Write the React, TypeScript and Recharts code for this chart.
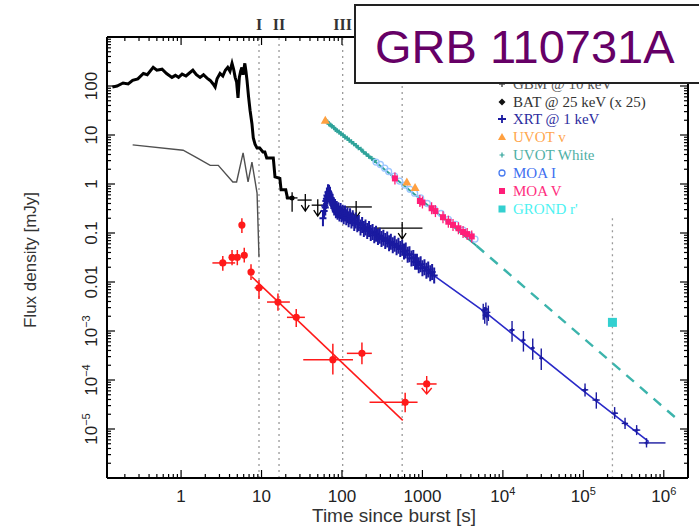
import { ComposedChart, XAxis, YAxis, Line, Scatter, ErrorBar, ReferenceLine } from 'recharts'

const W = 699
const H = 529
const X_DOMAIN = [0.12, 2e6]
const Y_DOMAIN = [1e-6, 1e3]

const xMajorTicks = [1, 10, 100, 1000, 1e4, 1e5, 1e6]
const xTickLabels = ['1', '10', '100', '1000', '10^4', '10^5', '10^6']
const yMajorTicks = [1e-5, 1e-4, 1e-3, 0.01, 0.1, 1, 10, 100]
const yTickLabels = ['10^−5', '10^−4', '10^−3', '0.01', '0.1', '1', '10', '100']

// phase markers (dotted verticals); the 4th one sits under the title box
const phaseTimes = [9.3, 16.5, 102, 560]
const phaseNames = ['I', 'II', 'III', '']
const grondTime = 2.3e5

// BAT 25 keV (x25) light curve [t, flux]
const batCurve = [
  [0.14, 95], [0.16, 100], [0.19, 115], [0.22, 110], [0.25, 130], [0.29, 140], [0.34, 180], [0.38, 170],
  [0.45, 240], [0.5, 210], [0.58, 220], [0.66, 180], [0.77, 150], [0.85, 165], [0.93, 150], [1.03, 175],
  [1.15, 160], [1.25, 180], [1.4, 210], [1.55, 170], [1.72, 150], [1.9, 170], [2.1, 145], [2.3, 130],
  [2.5, 110], [2.65, 95], [2.8, 140], [3.05, 180], [3.3, 160], [3.55, 210], [3.8, 240], [4.05, 200],
  [4.3, 290], [4.5, 220], [4.7, 150], [4.9, 120], [5.1, 57], [5.3, 150], [5.5, 200], [5.7, 240],
  [5.9, 170], [6.2, 290], [6.4, 200], [6.6, 130], [6.9, 60], [7.2, 32], [7.6, 17], [7.9, 8.7],
  [8.3, 6.5], [8.8, 5.4], [9.5, 5.4], [10.4, 4.5], [11, 4.5], [11.6, 3.4], [14, 3.4], [14.7, 1.4],
  [16.9, 1.3], [17.5, 0.76], [20, 0.76], [21, 0.52], [24, 0.52],
]
// [t, flux, tLo, tHi, fLo, fHi]
const batPoints = [[24, 0.52, 20, 28, 0.27, 0.68]]
// upper limits [t, flux, tLo, tHi]
const batLimits = [[35, 0.47, 28, 42], [50, 0.37, 42, 62], [150, 0.34, 100, 235], [560, 0.126, 250, 1000]]

// GBM 10 keV
const gbmCurve = [
  [0.25, 6.3], [1.06, 4.9], [1.58, 3.4], [2.3, 2.4], [2.9, 2.4], [4.4, 1.1], [4.9, 1.1], [5.9, 4.3],
  [6.8, 1.1], [7.6, 2.8], [8.8, 0.65], [9.3, 0.032],
]

// XRT 1 keV
const xrtEarly = [
  [58, 0.2], [60, 0.28], [61, 0.36], [62, 0.33], [63, 0.45], [64, 0.5], [65, 0.58], [66, 0.55],
  [67, 0.68], [68, 0.62], [69, 0.66], [70, 0.58], [71, 0.6], [72, 0.52], [73, 0.5], [74, 0.45],
  [76, 0.42], [77, 0.38], [79, 0.37], [80, 0.33], [82, 0.34], [84, 0.29], [86, 0.31], [88, 0.27],
  [90, 0.29], [93, 0.25], [96, 0.28], [99, 0.24], [102, 0.26], [105, 0.22], [109, 0.25], [113, 0.21],
  [117, 0.23], [121, 0.19], [126, 0.22], [131, 0.18], [136, 0.2], [142, 0.16], [148, 0.18], [155, 0.15],
  [162, 0.16], [170, 0.13], [178, 0.145], [187, 0.12], [196, 0.13], [206, 0.11], [217, 0.12], [228, 0.1],
  [240, 0.105], [252, 0.09], [265, 0.097], [280, 0.083], [295, 0.088], [310, 0.075], [327, 0.08], [345, 0.069],
  [365, 0.074], [385, 0.062], [405, 0.066], [428, 0.056], [452, 0.06], [477, 0.051], [503, 0.055], [530, 0.047],
  [560, 0.05], [590, 0.042], [620, 0.044], [655, 0.036], [690, 0.037], [730, 0.03], [770, 0.031], [810, 0.026],
  [855, 0.026], [900, 0.022], [950, 0.023], [1000, 0.019], [1060, 0.02], [1120, 0.017], [1180, 0.018],
  [1250, 0.015], [1320, 0.016], [1400, 0.0135],
]
const xrtLate = [
  [5700, 0.0026, 5500, 5900, 0.0017, 0.0036], [5950, 0.0021, 5800, 6100, 0.0014, 0.0031],
  [6150, 0.0028, 6000, 6300, 0.0019, 0.0038], [6350, 0.002, 6200, 6500, 0.0013, 0.0029],
  [6600, 0.0024, 6500, 6750, 0.0016, 0.0033], [1.3e4, 1.05e-3, 1.2e4, 1.4e4, 6e-4, 1.6e-3],
  [1.8e4, 6.5e-4, 1.7e4, 1.9e4, 3.8e-4, 1.0e-3], [2.35e4, 4.5e-4, 2.25e4, 2.45e4, 2.6e-4, 7e-4],
  [3.0e4, 2.8e-4, 2.85e4, 3.15e4, 1.6e-4, 4.4e-4], [1.05e5, 6.3e-5, 9.5e4, 1.15e5, 4.6e-5, 8.5e-5],
  [1.45e5, 3.9e-5, 1.3e5, 1.6e5, 2.6e-5, 5.6e-5], [2.45e5, 2.1e-5, 2.25e5, 2.7e5, 1.6e-5, 2.8e-5],
  [3.3e5, 1.3e-5, 3.0e5, 3.6e5, 1.0e-5, 1.7e-5], [4.6e5, 9.5e-6, 4.1e5, 5.1e5, 7.5e-6, 1.2e-5],
  [6.1e5, 5.2e-6, 4.9e5, 1.05e6, 4.2e-6, 6.5e-6],
]
const xrtModel = [
  [58, 0.19], [68, 0.63], [80, 0.36], [100, 0.26], [570, 0.048], [1350, 0.014], [6300, 0.0023],
  [1e5, 6e-5], [6.5e5, 5.5e-6],
]

// optical
const uvotV = [[62, 20], [640, 1.1], [810, 0.85]]
const uvotWhite = [
  [63, 19.5], [66, 18.5], [69, 16.8], [72, 16.0], [75, 15.0], [79, 14.2], [83, 13.0], [87, 12.2],
  [92, 11.5], [97, 10.6], [103, 10.0], [109, 9.0], [116, 8.6], [123, 7.8], [131, 7.3], [140, 6.6],
  [150, 6.1], [160, 5.5], [172, 5.1], [185, 4.5], [200, 4.1], [215, 3.7], [235, 3.3], [255, 3.0],
]
const opticalModel = [[60, 21], [4700, 0.055]]
const opticalExtrap = [[4700, 0.055], [1.4e6, 1.7e-5]]
const moaI = [
  [265, 2.8], [300, 2.5], [340, 2.1], [380, 1.8], [450, 1.45], [520, 1.15], [600, 0.95], [700, 0.78],
  [800, 0.65], [950, 0.52], [1150, 0.4], [1400, 0.31], [1700, 0.25], [2100, 0.19], [2600, 0.15],
  [3200, 0.115], [3900, 0.09], [4500, 0.075],
]
const moaV = [
  [455, 1.3], [930, 0.45], [1000, 0.42], [1300, 0.32], [1450, 0.28], [1800, 0.21], [2100, 0.17],
  [2400, 0.146], [2800, 0.125], [3200, 0.105], [3600, 0.095], [4100, 0.085],
]
const grond = [[2.3e5, 1.5e-3]]

// red points [t, flux, tLo, tHi, fLo, fHi]
const redPoints = [
  [3.3, 0.0245, 2.45, 4.7, 0.017, 0.034], [4.3, 0.032, 4.0, 4.6, 0.022, 0.045],
  [5.0, 0.032, 4.7, 5.3, 0.022, 0.045], [6.1, 0.035, 5.8, 6.6, 0.025, 0.05],
  [5.7, 0.145, 5.5, 5.9, 0.1, 0.2], [7.4, 0.016, 6.8, 8.2, 0.011, 0.023],
  [9.3, 0.0076, 8.2, 10.5, 0.0045, 0.011], [16, 0.0039, 11.7, 22.5, 0.0026, 0.0058],
  [27, 0.0019, 20.7, 34.6, 0.0012, 0.0028], [77, 2.6e-4, 33, 137, 1.3e-4, 5.5e-4],
  [177, 3.5e-4, 115, 235, 2.1e-4, 5.8e-4], [610, 3.5e-5, 220, 870, 2.2e-5, 5.5e-5],
]
const redLimits = [[1130, 8.3e-5, 850, 1500]]
const redModel = [[7.6, 0.0127], [570, 1.5e-5]]

const legendNames = ['GBM @ 10 keV', 'BAT @ 25 keV (x 25)', 'XRT @ 1 keV', 'UVOT v', 'UVOT White', 'MOA I', 'MOA V', "GROND r'"]
const legendColors = ['#555555', '#333333', '#2b2b9e', '#ffa64d', '#4fb0a5', '#3f6ff0', '#ff2e7e', '#4df2f2']
const legendRows = [84, 102, 119, 137, 155, 173, 191, 209]

const C = {
  bat: '#000000',
  gbm: '#505050',
  xrt: '#1a1aa0',
  xrtLine: '#2a2ac8',
  red: '#ff1a1a',
  teal: '#2fa39a',
  tealDash: '#3cb4ac',
  orange: '#ffa040',
  moaI: '#9cc6ff',
  moaV: '#ff1e78',
  grond: '#33d0d0',
  ref: '#9a9a9a',
}

const pts = (a: number[][]) => a.map(([t, v]) => ({ t, v }))
const errPts = (a: number[][]) =>
  a.map(([t, v, tLo, tHi, vLo, vHi]) => ({ t, v, xe: [t - tLo, tHi - t], ye: [v - vLo, vHi - v] }))
const limPts = (a: number[][]) => a.map(([t, v, tLo, tHi]) => ({ t, v, xe: [t - tLo, tHi - t] }))

function logTicks(lo: number, hi: number) {
  const out: number[] = []
  for (let e = Math.floor(Math.log10(lo)); e <= Math.ceil(Math.log10(hi)); e++) {
    for (let k = 1; k <= 9; k++) {
      const v = k * Math.pow(10, e)
      if (v >= lo && v <= hi) out.push(v)
    }
  }
  return out
}
const xTicks = logTicks(X_DOMAIN[0], X_DOMAIN[1])
const yTicks = logTicks(Y_DOMAIN[0], Y_DOMAIN[1])

const isMajor = (v: number) => Math.abs(Math.log10(v) - Math.round(Math.log10(v))) < 1e-6
const findLabel = (v: number, majors: number[], labels: string[]) => {
  const i = majors.findIndex((m) => Math.abs(m - v) / m < 1e-6)
  return i >= 0 ? labels[i] : null
}

const tickFont = { fontFamily: 'Liberation Sans, Arial, sans-serif', fontSize: 17, fill: '#222' }

function SupText({ label, ...rest }: any) {
  const [base, exp] = label.split('^')
  return (
    <text {...rest} {...tickFont}>
      {base}
      {exp && (
        <tspan dy={-7} fontSize={11}>
          {exp}
        </tspan>
      )}
    </text>
  )
}

function BottomTick({ x, y, payload }: any) {
  const v = payload.value
  const label = findLabel(v, xMajorTicks, xTickLabels)
  return (
    <g>
      <line x1={x} x2={x} y1={y} y2={y - (isMajor(v) ? 8 : 4)} stroke="#000" strokeWidth={1.2} />
      {label && <SupText label={label} x={x} y={y + 24} textAnchor="middle" />}
    </g>
  )
}

function TopTick({ x, y, payload }: any) {
  return <line x1={x} x2={x} y1={y} y2={y + (isMajor(payload.value) ? 8 : 4)} stroke="#000" strokeWidth={1.2} />
}

function LeftTick({ x, y, payload }: any) {
  const v = payload.value
  const label = findLabel(v, yMajorTicks, yTickLabels)
  const lx = x - 10
  return (
    <g>
      <line x1={x} x2={x + (isMajor(v) ? 8 : 4)} y1={y} y2={y} stroke="#000" strokeWidth={1.2} />
      {label && <SupText label={label} x={lx} y={y} textAnchor="middle" transform={`rotate(-90 ${lx} ${y})`} />}
    </g>
  )
}

function RightTick({ x, y, payload }: any) {
  return <line x1={x} x2={x - (isMajor(payload.value) ? 8 : 4)} y1={y} y2={y} stroke="#000" strokeWidth={1.2} />
}

const plusShape = (color: string, arm: number, bar: number, sw = 1.4) => (p: any) => (
  <path d={`M${p.cx - arm},${p.cy}h${2 * arm}M${p.cx},${p.cy - bar}v${2 * bar}`} stroke={color} strokeWidth={sw} fill="none" />
)
const arrowShape = (p: any) => (
  <path
    d={`M${p.cx},${p.cy - 6}V${p.cy + 11}M${p.cx - 4},${p.cy + 5}L${p.cx},${p.cy + 11}L${p.cx + 4},${p.cy + 5}`}
    stroke="#000"
    strokeWidth={1.3}
    fill="none"
  />
)
const redDot = (p: any) => <circle cx={p.cx} cy={p.cy} r={3.6} fill={C.red} />
const redLimitShape = (p: any) => (
  <g>
    <circle cx={p.cx} cy={p.cy} r={3.6} fill={C.red} />
    <path
      d={`M${p.cx},${p.cy - 8}V${p.cy + 10}M${p.cx - 5},${p.cy + 4}L${p.cx},${p.cy + 10}L${p.cx + 5},${p.cy + 4}`}
      stroke={C.red}
      strokeWidth={1.4}
      fill="none"
    />
  </g>
)
const triShape = (p: any) => (
  <path d={`M${p.cx},${p.cy - 4.5}L${p.cx + 4.5},${p.cy + 3.5}L${p.cx - 4.5},${p.cy + 3.5}Z`} fill={C.orange} />
)
const circleShape = (p: any) => <circle cx={p.cx} cy={p.cy} r={3} fill="none" stroke={C.moaI} strokeWidth={1.3} />
const moaVShape = (p: any) => (
  <g>
    <path d={`M${p.cx},${p.cy - 6}v12`} stroke={C.moaV} strokeWidth={1.3} />
    <rect x={p.cx - 3} y={p.cy - 3} width={6} height={6} fill={C.moaV} />
  </g>
)
const grondShape = (p: any) => <rect x={p.cx - 4.5} y={p.cy - 4.5} width={9} height={9} fill={C.grond} />
const dotShape = (p: any) => <circle cx={p.cx} cy={p.cy} r={2.5} fill={C.bat} />

const frame = { stroke: '#000', strokeWidth: 2 }

function LegendMarker({ i, x, y }: { i: number; x: number; y: number }) {
  const c = legendColors[i]
  switch (i) {
    case 0:
      return <path d={`M${x - 3},${y}h6M${x},${y - 3}v6`} stroke={c} strokeWidth={1.5} />
    case 1:
      return <path d={`M${x},${y - 3.5}L${x + 3.5},${y}L${x},${y + 3.5}L${x - 3.5},${y}Z`} fill="#111" />
    case 2:
      return <path d={`M${x - 4},${y}h8M${x},${y - 4}v8`} stroke={C.xrt} strokeWidth={1.8} />
    case 3:
      return <path d={`M${x},${y - 4}L${x + 4},${y + 3}L${x - 4},${y + 3}Z`} fill={C.orange} />
    case 4:
      return <path d={`M${x - 2.5},${y}h5M${x},${y - 2.5}v5`} stroke={C.teal} strokeWidth={1.2} />
    case 5:
      return <circle cx={x} cy={y} r={3} fill="none" stroke="#4a7cf0" strokeWidth={1.3} />
    case 6:
      return <rect x={x - 3} y={y - 3} width={6} height={6} fill={C.moaV} />
    default:
      return <rect x={x - 3.5} y={y - 3.5} width={7} height={7} fill={C.grond} />
  }
}

export default function App() {
  return (
    <div style={{ position: 'absolute', left: 0, top: 0, width: W, height: H, background: '#fff' }}>
      <ComposedChart width={W} height={H} margin={{ top: 36, right: 10, bottom: 50, left: 106 }}>
        <XAxis
          dataKey="t"
          type="number"
          scale="log"
          domain={X_DOMAIN}
          allowDataOverflow
          ticks={xTicks}
          interval={0}
          height={1}
          tickSize={0}
          tickMargin={0}
          tickLine={false}
          axisLine={frame}
          tick={BottomTick}
        />
        <XAxis
          xAxisId="top"
          orientation="top"
          dataKey="t"
          type="number"
          scale="log"
          domain={X_DOMAIN}
          allowDataOverflow
          ticks={xTicks}
          interval={0}
          height={1}
          tickSize={0}
          tickMargin={0}
          tickLine={false}
          axisLine={frame}
          tick={TopTick}
        />
        <YAxis
          dataKey="v"
          type="number"
          scale="log"
          domain={Y_DOMAIN}
          allowDataOverflow
          ticks={yTicks}
          interval={0}
          width={1}
          tickSize={0}
          tickMargin={0}
          tickLine={false}
          axisLine={frame}
          tick={LeftTick}
        />
        <YAxis
          yAxisId="right"
          orientation="right"
          dataKey="v"
          type="number"
          scale="log"
          domain={Y_DOMAIN}
          allowDataOverflow
          ticks={yTicks}
          interval={0}
          width={1}
          tickSize={0}
          tickMargin={0}
          tickLine={false}
          axisLine={frame}
          tick={RightTick}
        />

        {phaseTimes.map((t, i) => (
          <ReferenceLine
            key={t}
            x={t}
            stroke={C.ref}
            strokeWidth={1.3}
            strokeDasharray="2 4"
            label={
              phaseNames[i]
                ? {
                    value: phaseNames[i],
                    position: 'top',
                    offset: 7,
                    fill: '#333',
                    fontSize: 16,
                    fontWeight: 'bold',
                    fontFamily: 'Liberation Serif, Times New Roman, serif',
                  }
                : undefined
            }
          />
        ))}
        <ReferenceLine
          segment={[{ x: grondTime, y: 0.2 }, { x: grondTime, y: 1e-6 }]}
          stroke={C.ref}
          strokeWidth={1.3}
          strokeDasharray="2 4"
        />

        <Line data={pts(gbmCurve)} dataKey="v" stroke={C.gbm} strokeWidth={1.4} dot={false} isAnimationActive={false} />
        <Line data={pts(batCurve)} dataKey="v" stroke={C.bat} strokeWidth={3} dot={false} isAnimationActive={false} />
        <Scatter data={errPts(batPoints)} dataKey="v" shape={dotShape} isAnimationActive={false}>
          <ErrorBar dataKey="xe" direction="x" width={0} stroke={C.bat} strokeWidth={1.3} isAnimationActive={false} />
          <ErrorBar dataKey="ye" direction="y" width={0} stroke={C.bat} strokeWidth={1.3} isAnimationActive={false} />
        </Scatter>
        <Scatter data={limPts(batLimits)} dataKey="v" shape={arrowShape} isAnimationActive={false}>
          <ErrorBar dataKey="xe" direction="x" width={0} stroke={C.bat} strokeWidth={1.3} isAnimationActive={false} />
        </Scatter>

        <Line data={pts(redModel)} dataKey="v" stroke={C.red} strokeWidth={1.5} dot={false} isAnimationActive={false} />
        <Scatter data={errPts(redPoints)} dataKey="v" shape={redDot} isAnimationActive={false}>
          <ErrorBar dataKey="xe" direction="x" width={0} stroke={C.red} strokeWidth={1.5} isAnimationActive={false} />
          <ErrorBar dataKey="ye" direction="y" width={0} stroke={C.red} strokeWidth={1.5} isAnimationActive={false} />
        </Scatter>
        <Scatter data={limPts(redLimits)} dataKey="v" shape={redLimitShape} isAnimationActive={false}>
          <ErrorBar dataKey="xe" direction="x" width={0} stroke={C.red} strokeWidth={1.5} isAnimationActive={false} />
        </Scatter>

        <Line data={pts(xrtModel)} dataKey="v" stroke={C.xrtLine} strokeWidth={1.6} dot={false} isAnimationActive={false} />
        <Scatter data={pts(xrtEarly)} dataKey="v" shape={plusShape(C.xrt, 3.5, 8, 2)} isAnimationActive={false} />
        <Scatter data={errPts(xrtLate)} dataKey="v" shape={plusShape(C.xrt, 2, 2)} isAnimationActive={false}>
          <ErrorBar dataKey="xe" direction="x" width={0} stroke={C.xrt} strokeWidth={1.4} isAnimationActive={false} />
          <ErrorBar dataKey="ye" direction="y" width={0} stroke={C.xrt} strokeWidth={1.4} isAnimationActive={false} />
        </Scatter>

        <Line data={pts(opticalModel)} dataKey="v" stroke={C.teal} strokeWidth={2} dot={false} isAnimationActive={false} />
        <Line
          data={pts(opticalExtrap)}
          dataKey="v"
          stroke={C.tealDash}
          strokeWidth={2.4}
          strokeDasharray="10 8"
          dot={false}
          isAnimationActive={false}
        />
        <Scatter data={pts(uvotWhite)} dataKey="v" shape={plusShape(C.teal, 2.5, 2.5, 1.5)} isAnimationActive={false} />
        <Scatter data={pts(moaI)} dataKey="v" shape={circleShape} isAnimationActive={false} />
        <Scatter data={pts(moaV)} dataKey="v" shape={moaVShape} isAnimationActive={false} />
        <Scatter data={pts(uvotV)} dataKey="v" shape={triShape} isAnimationActive={false} />
        <Scatter data={pts(grond)} dataKey="v" shape={grondShape} isAnimationActive={false} />
      </ComposedChart>

      <svg width={W} height={H} style={{ position: 'absolute', left: 0, top: 0, pointerEvents: 'none' }}>
        <text
          x={36}
          y={260}
          transform="rotate(-90 36 260)"
          textAnchor="middle"
          fontFamily="Liberation Sans, Arial, sans-serif"
          fontSize={17}
          fill="#333"
        >
          Flux density [mJy]
        </text>
        <text x={394} y={522} textAnchor="middle" fontFamily="Liberation Sans, Arial, sans-serif" fontSize={19} fill="#333">
          Time since burst [s]
        </text>

        {legendNames.map((name, i) => (
          <g key={name}>
            <LegendMarker i={i} x={502} y={legendRows[i]} />
            <text
              x={513}
              y={legendRows[i] + 5}
              fontFamily="Liberation Serif, Times New Roman, serif"
              fontSize={15}
              fill={legendColors[i]}
            >
              {name}
            </text>
          </g>
        ))}

        <rect x={355} y={5} width={360} height={78} fill="#fff" stroke="#222" strokeWidth={2} />
        <text x={375} y={63} fontFamily="Liberation Sans, Arial, sans-serif" fontSize={47} fill="#660066">
          GRB 110731A
        </text>
      </svg>
    </div>
  )
}
